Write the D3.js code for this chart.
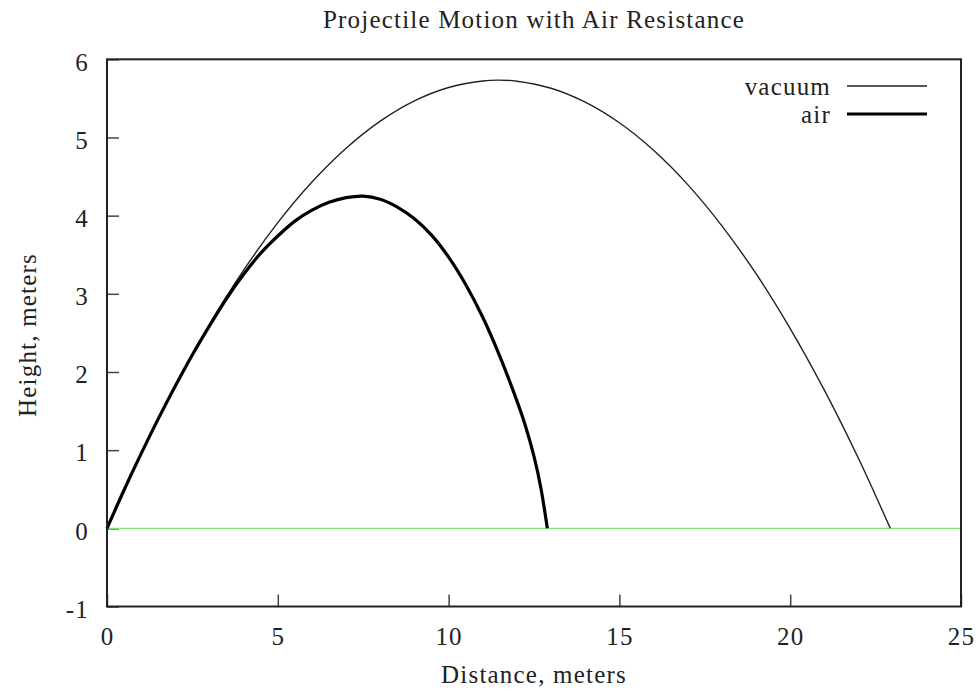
<!DOCTYPE html>
<html>
<head>
<meta charset="utf-8">
<script src="https://cdn.jsdelivr.net/npm/d3@7"></script>
<style>
  html, body { margin: 0; padding: 0; background: #fff; }
  svg text { font-family: "Liberation Serif", "DejaVu Serif", serif; font-size: 25px; fill: #222; letter-spacing: 1.2px; }
</style>
</head>
<body>
<svg id="chart" width="978" height="692"></svg>
<script>
// ---- data ----
const title = "Projectile Motion with Air Resistance";
const xLabel = "Distance, meters";
const yLabel = "Height, meters";
const xTicks = [0, 5, 10, 15, 20, 25];
const yTicks = [-1, 0, 1, 2, 3, 4, 5, 6];
const seriesNames = ["vacuum", "air"];

const vacuumX = [0, 1, 2, 3, 4, 5, 6, 7, 8, 9, 10, 11, 11.465, 12, 13, 14, 15, 16, 17, 18, 19, 20, 21, 22, 22.93];
const vacuumY = [0, 0.956, 1.826, 2.608, 3.302, 3.910, 4.430, 4.863, 5.209, 5.468, 5.639, 5.723, 5.733, 5.720, 5.630, 5.452, 5.188, 4.836, 4.397, 3.870, 3.257, 2.556, 1.768, 0.893, 0];

const airX = [0, 0.5, 1, 1.5, 2, 2.5, 3, 3.5, 4, 4.5, 5, 5.5, 6, 6.5, 7, 7.5, 8, 8.5, 9, 9.5, 10, 10.5, 11, 11.5, 12, 12.25, 12.5, 12.7, 12.89];
const airY = [0, 0.49, 0.955, 1.40, 1.82, 2.22, 2.59, 2.94, 3.25, 3.52, 3.74, 3.93, 4.07, 4.17, 4.23, 4.25, 4.21, 4.11, 3.96, 3.75, 3.47, 3.12, 2.70, 2.20, 1.63, 1.31, 0.92, 0.52, 0];

const groundX = [0, 25];
const groundY = [0, 0];

// ---- layout ----
const W = 978, H = 692;
const m = { left: 107, right: 17, top: 59.3, bottom: 85.5 };
const svg = d3.select("#chart");

const x = d3.scaleLinear().domain([0, 25]).range([m.left, W - m.right]);
const y = d3.scaleLinear().domain([-1, 6]).range([H - m.bottom, m.top]);

const zip = (xs, ys) => xs.map((v, i) => [v, ys[i]]);
const line = d3.line().x(d => x(d[0])).y(d => y(d[1])).curve(d3.curveCatmullRom.alpha(0.5));

// title
svg.append("text")
  .attr("x", (m.left + W - m.right) / 2).attr("y", 28)
  .attr("text-anchor", "middle").text(title);

// axes
const fmt = d => String(d);
const yAxis = d3.axisLeft(y).tickValues(yTicks).tickSizeInner(-12).tickSizeOuter(0).tickPadding(18).tickFormat(fmt);
const gy = svg.append("g").attr("transform", `translate(${m.left},0)`).call(yAxis);
gy.select(".domain").remove();
gy.selectAll(".tick line").attr("stroke", "#444").attr("stroke-width", 1.5);
gy.selectAll(".tick text").attr("fill", "#222").attr("dy", "0.43em")
  .style("font-family", "'Liberation Serif', serif").style("font-size", "25px");

const xAxis = d3.axisBottom(x).tickValues(xTicks).tickSizeInner(-12).tickSizeOuter(0).tickPadding(21).tickFormat(fmt);
const gx = svg.append("g").attr("transform", `translate(0,${H - m.bottom})`).call(xAxis);
gx.select(".domain").remove();
gx.selectAll(".tick line").attr("stroke", "#444").attr("stroke-width", 1.5);
gx.selectAll(".tick text").attr("fill", "#222")
  .style("font-family", "'Liberation Serif', serif").style("font-size", "25px");

// axis labels
svg.append("text")
  .attr("x", (m.left + W - m.right) / 2).attr("y", 683)
  .attr("text-anchor", "middle").text(xLabel);
svg.append("text")
  .attr("transform", `translate(36,335) rotate(-90)`)
  .attr("text-anchor", "middle").text(yLabel);

// ground line
svg.append("path").datum(zip(groundX, groundY))
  .attr("d", d3.line().x(d => x(d[0])).y(d => y(d[1])))
  .attr("fill", "none").attr("stroke", "#77e877").attr("stroke-width", 1.2);

// curves
svg.append("path").datum(zip(vacuumX, vacuumY))
  .attr("d", line).attr("fill", "none").attr("stroke", "#222").attr("stroke-width", 1.4);
svg.append("path").datum(zip(airX, airY))
  .attr("d", line).attr("fill", "none").attr("stroke", "#000").attr("stroke-width", 3.2);

// frame
svg.append("rect")
  .attr("x", m.left).attr("y", m.top)
  .attr("width", W - m.right - m.left).attr("height", H - m.bottom - m.top)
  .attr("fill", "none").attr("stroke", "#222").attr("stroke-width", 2);

// legend
const legend = svg.append("g");
const legY = [86, 114];
const legW = [1.4, 3.2];
const legC = ["#222", "#000"];
const legBase = [95, 122.5];
seriesNames.forEach((name, i) => {
  legend.append("text").attr("x", 831).attr("y", legBase[i])
    .attr("text-anchor", "end").text(name);
  legend.append("line").attr("x1", 847).attr("x2", 927)
    .attr("y1", legY[i]).attr("y2", legY[i])
    .attr("stroke", legC[i]).attr("stroke-width", legW[i]);
});
</script>
</body>
</html>
